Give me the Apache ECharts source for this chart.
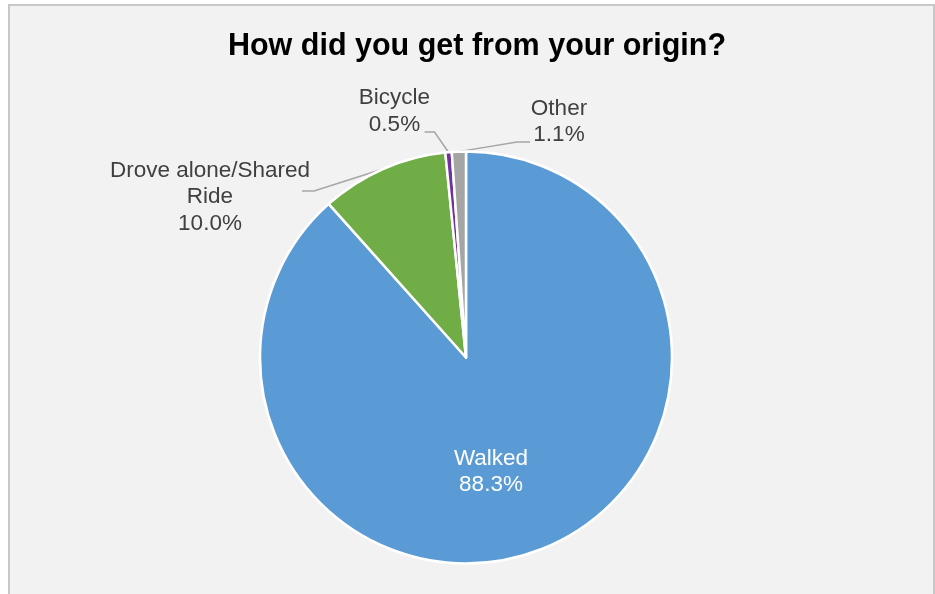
<!DOCTYPE html>
<html>
<head>
<meta charset="utf-8">
<script src="https://cdn.jsdelivr.net/npm/echarts@6/dist/echarts.min.js"></script>
<style>
  html, body { margin: 0; padding: 0; background: #ffffff; }
  #chart { width: 935px; height: 594px; }
</style>
</head>
<body>
<div id="chart"></div>
<script>
// Travel mode shares (percent)
const categories = ['Walked', 'Drove alone/Shared\nRide', 'Bicycle', 'Other'];
const shares = [88.3, 10.0, 0.5, 1.1];
const sliceColors = ['#5b9bd5', '#70ad47', '#7030a0', '#a5a5a5'];

// Where each category's label sits, and the elbow of its leader line
const labelSpots = [
  { x: 491, y: 472, line: false },
  { x: 210, y: 197, line: true, elbowDx: 104, elbowDy: -6, startDx: 92, startDy: -6 },
  { x: 394.5, y: 111.5, line: true, elbowDx: 40, elbowDy: 20.5, startDx: 30, startDy: 20.5 },
  { x: 559, y: 122, line: true, elbowDx: -42, elbowDy: 20, startDx: -29, startDy: 20 }
];

const chart = echarts.init(document.getElementById('chart'), null, { renderer: 'canvas' });

const pieData = categories.map((name, i) => ({
  name: name,
  value: shares[i],
  itemStyle: { color: sliceColors[i] },
  label: i === 0
    ? { position: 'inside', color: '#ffffff' }
    : { position: 'outside', color: '#404040' }
}));

chart.setOption({
  backgroundColor: '#ffffff',
  animation: false,
  graphic: [{
    type: 'rect',
    z: -10,
    shape: { x: 9, y: 5, width: 925, height: 640 },
    style: { fill: '#f2f2f2', stroke: '#c8c8c8', lineWidth: 2 }
  }],
  title: {
    text: 'How did you get from your origin?',
    left: 472,
    top: 26,
    textAlign: 'center',
    textStyle: {
      fontFamily: 'Liberation Sans, Arial, sans-serif',
      fontSize: 30.5,
      fontWeight: 'bold',
      color: '#000000'
    }
  },
  series: [{
    type: 'pie',
    center: [466, 357.5],
    radius: 206,
    startAngle: 90,
    clockwise: true,
    avoidLabelOverlap: false,
    data: pieData,
    itemStyle: { borderColor: '#ffffff', borderWidth: 2.5 },
    label: {
      show: true,
      formatter: p => p.name + '\n' + p.value.toFixed(1) + '%',
      fontFamily: 'Liberation Sans, Arial, sans-serif',
      fontSize: 22.5,
      lineHeight: 26.5,
      align: 'center'
    },
    labelLine: {
      show: true,
      lineStyle: { color: '#a6a6a6', width: 1.5 }
    },
    labelLayout: function (params) {
      const spot = labelSpots[params.dataIndex];
      const out = { x: spot.x, y: spot.y, align: 'center', verticalAlign: 'middle' };
      if (spot.line && params.labelLinePoints) {
        const edge = params.labelLinePoints[0];
        out.labelLinePoints = [
          edge,
          [spot.x + spot.elbowDx, spot.y + spot.elbowDy],
          [spot.x + spot.startDx, spot.y + spot.startDy]
        ];
      }
      return out;
    }
  }]
});
</script>
</body>
</html>
